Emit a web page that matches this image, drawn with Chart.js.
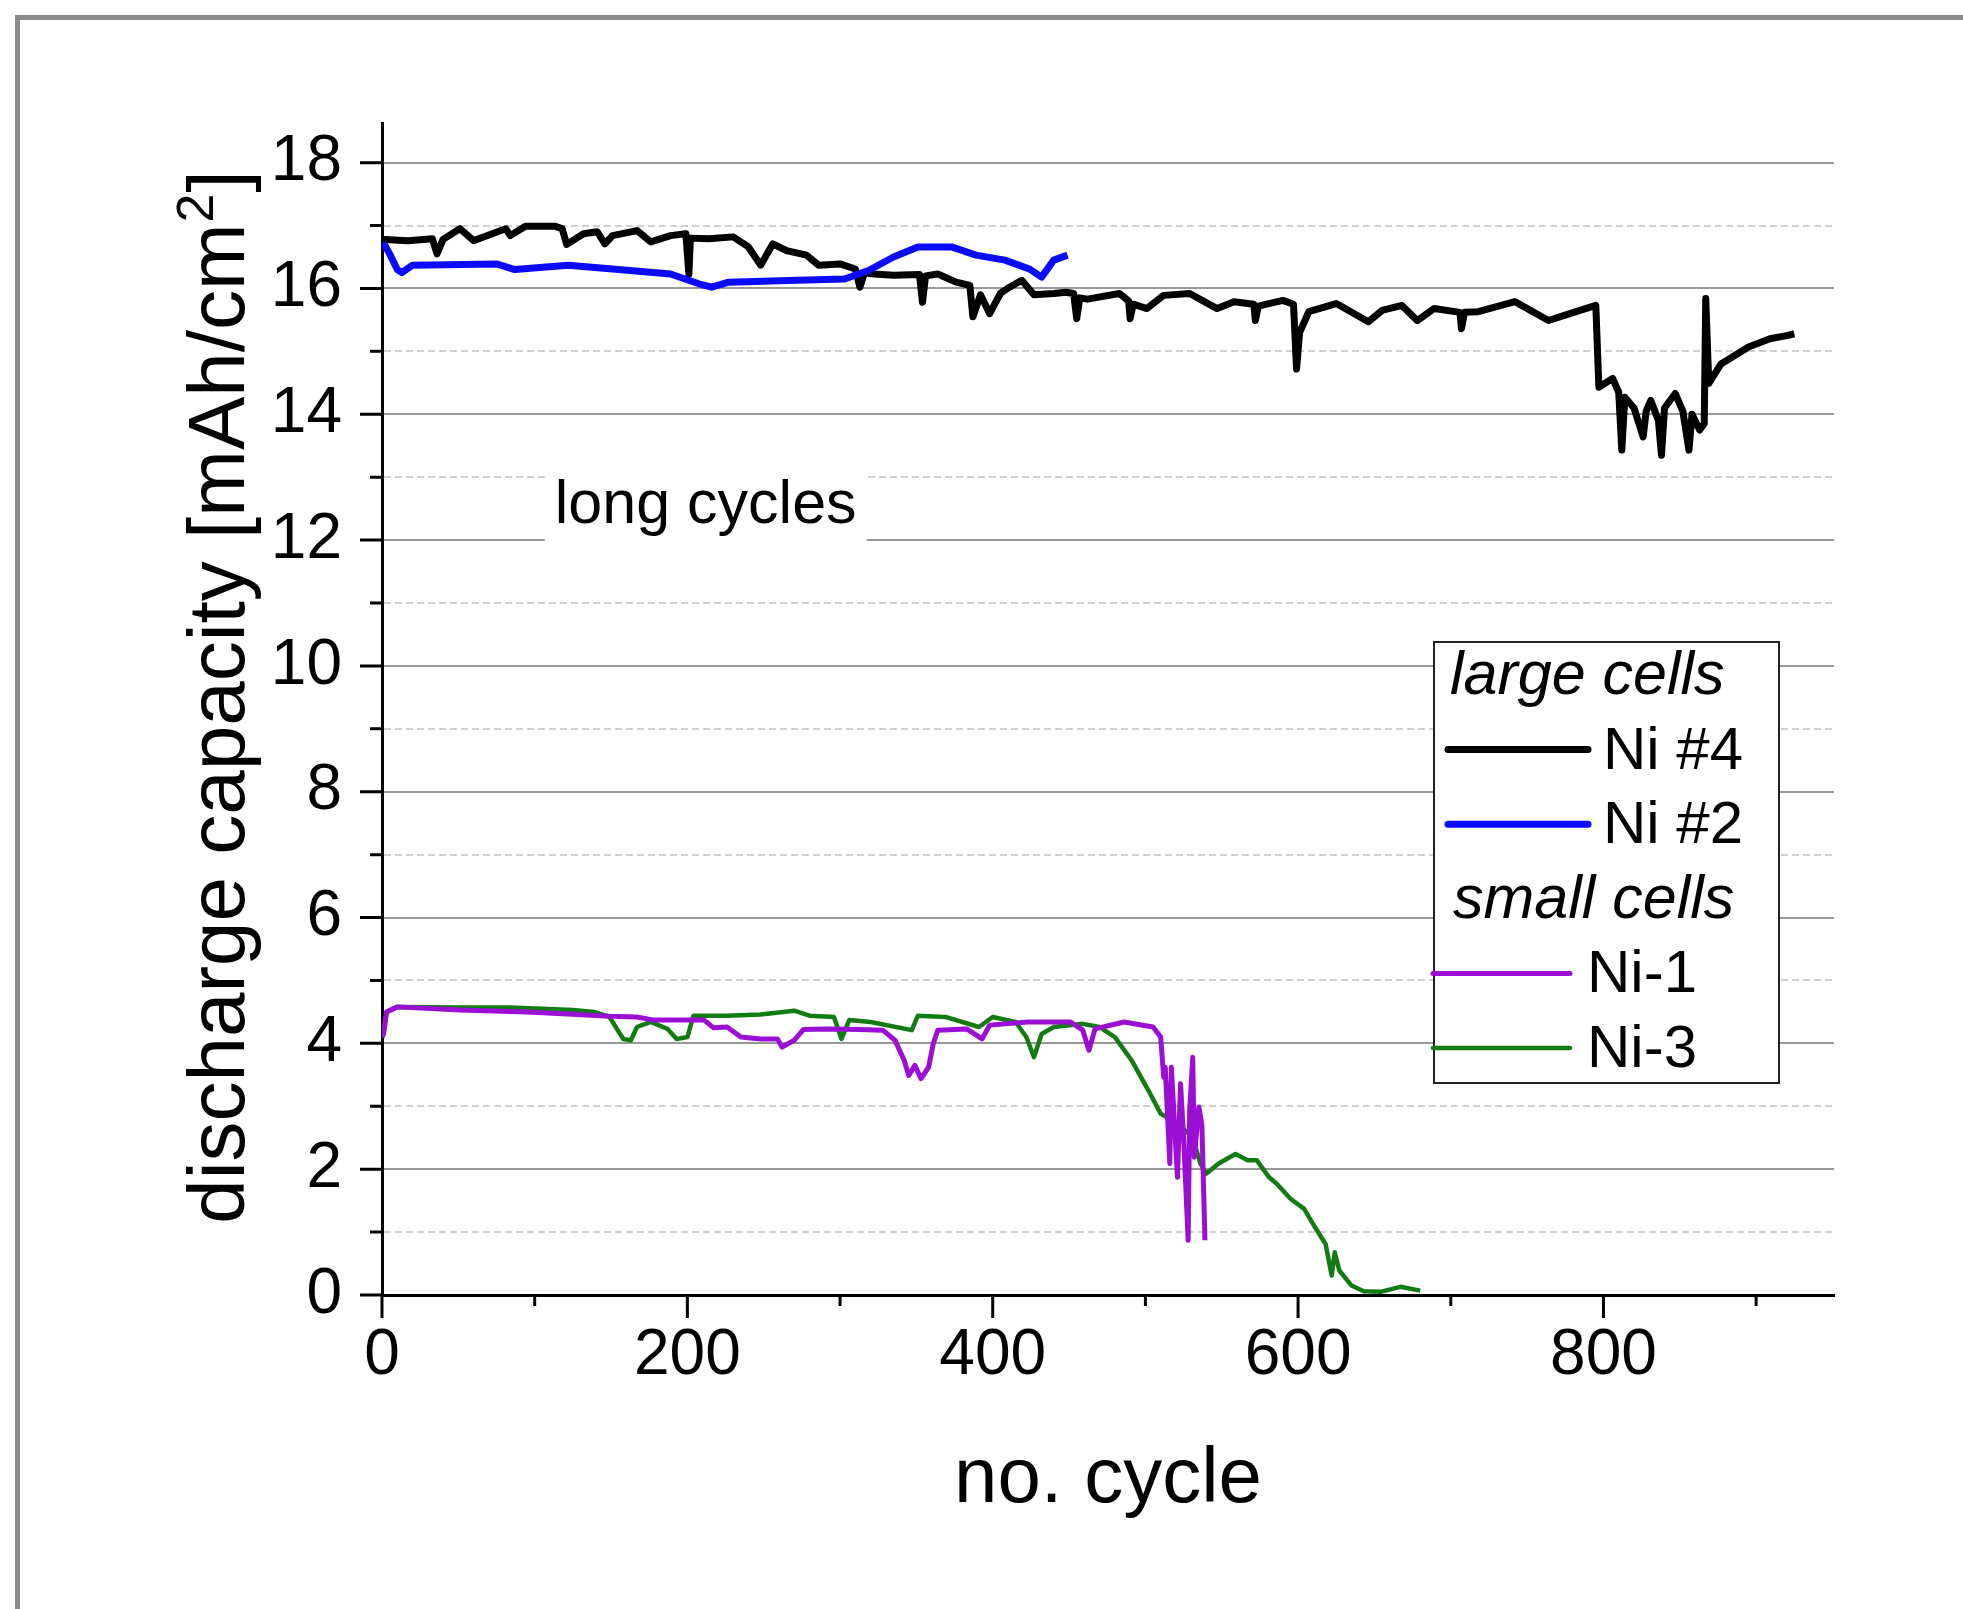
<!DOCTYPE html>
<html>
<head>
<meta charset="utf-8">
<title>discharge capacity vs. cycle</title>
<script src="https://cdn.jsdelivr.net/npm/chart.js@4"></script>
<style>
  html, body { margin: 0; padding: 0; background: #fff; }
  #wrap { width: 1963px; height: 1609px; }
</style>
</head>
<body>
<div id="wrap"><canvas id="chart" width="1963" height="1609"></canvas></div>
<script>
// ---------------------------------------------------------------
// Data (cycle number, mAh/cm2)
// ---------------------------------------------------------------
const ni4Cycle = [0, 2, 17, 33, 36, 40, 51, 60, 70, 81, 84, 94, 113, 118, 121, 132, 141, 146, 151, 167,
  176, 189, 199, 201, 202, 214, 230, 240, 248, 256, 265, 278, 286, 300, 310, 313, 316, 322, 335, 352,
  354, 356, 364, 376, 385, 387, 392, 398, 405, 411, 419, 427, 440, 448, 453, 455, 457, 462, 483, 489,
  490, 492, 501, 512, 529, 547, 558, 571, 572, 574, 590, 597, 599, 601, 607, 625, 646, 655, 668, 678,
  689, 706, 707, 709, 718, 742, 764, 778, 795, 797, 806, 810, 812, 814, 820, 826, 828, 831, 836, 838,
  840, 847, 852, 856, 858, 863, 866, 867, 869, 877, 895, 909, 920, 925];
const ni4Capacity = [16.70, 16.78, 16.76, 16.79, 16.55, 16.78, 16.95, 16.76, 16.85, 16.95, 16.84, 16.99, 16.99, 16.95, 16.70, 16.87, 16.90, 16.71, 16.84, 16.92,
  16.74, 16.84, 16.87, 16.23, 16.80, 16.79, 16.82, 16.66, 16.37, 16.71, 16.60, 16.53, 16.37, 16.39, 16.31, 16.02, 16.25, 16.23, 16.21, 16.22,
  15.78, 16.20, 16.23, 16.10, 16.05, 15.55, 15.90, 15.60, 15.92, 16.02, 16.13, 15.90, 15.92, 15.94, 15.92, 15.52, 15.85, 15.83, 15.92, 15.80,
  15.52, 15.75, 15.68, 15.89, 15.92, 15.68, 15.79, 15.75, 15.49, 15.72, 15.81, 15.75, 14.72, 15.30, 15.63, 15.76, 15.47, 15.65, 15.73, 15.49,
  15.68, 15.62, 15.36, 15.62, 15.63, 15.79, 15.49, 15.60, 15.73, 14.43, 14.57, 14.35, 13.43, 14.27, 14.10, 13.64, 14.05, 14.22, 13.90, 13.35,
  14.10, 14.33, 14.05, 13.43, 14.00, 13.75, 13.85, 15.84, 14.49, 14.80, 15.07, 15.20, 15.25, 15.28];

const ni2Cycle = [0, 2, 5, 10, 13, 20, 75, 87, 122, 151, 189, 208, 216, 227, 272, 303, 319, 335, 351, 373,
  389, 408, 424, 432, 440, 449];
const ni2Capacity = [16.70, 16.68, 16.55, 16.30, 16.25, 16.37, 16.39, 16.30, 16.37, 16.31, 16.23, 16.07, 16.02, 16.10, 16.13, 16.15, 16.29, 16.50, 16.66, 16.66,
  16.53, 16.45, 16.31, 16.18, 16.45, 16.53];

const ni1Cycle = [0, 1, 3, 10, 51, 95, 128, 149, 167, 178, 204, 211, 217, 226, 235, 248, 259, 262, 270, 276,
  291, 313, 328, 336, 342, 345, 349, 353, 358, 361, 364, 383, 393, 398, 423, 451, 459, 463, 467, 486,
  505, 510, 512, 513, 516, 517, 521, 523, 525, 528, 529, 531, 532, 535, 537, 539];
const ni1Capacity = [4.10, 4.15, 4.50, 4.58, 4.53, 4.50, 4.46, 4.43, 4.42, 4.37, 4.37, 4.37, 4.25, 4.26, 4.10, 4.07, 4.07, 3.94, 4.05, 4.22,
  4.23, 4.22, 4.21, 4.05, 3.73, 3.49, 3.65, 3.44, 3.62, 3.99, 4.21, 4.23, 4.07, 4.29, 4.34, 4.34, 4.21, 3.89, 4.23, 4.34,
  4.26, 4.10, 3.46, 3.62, 2.09, 3.62, 1.87, 3.36, 2.51, 0.87, 2.93, 3.78, 2.19, 2.99, 2.70, 0.87];

const ni3Cycle = [0, 1, 3, 10, 51, 84, 125, 139, 149, 158, 163, 167, 176, 187, 193, 200, 204, 226, 248, 270,
  280, 296, 301, 306, 320, 347, 351, 369, 391, 400, 415, 422, 427, 432, 440, 459, 470, 480, 491, 502,
  510, 514, 522, 531, 536, 540, 548, 559, 567, 573, 581, 586, 595, 604, 611, 618, 622, 624, 627, 635,
  643, 654, 667, 680];
const ni3Capacity = [4.10, 4.15, 4.50, 4.58, 4.57, 4.57, 4.53, 4.50, 4.42, 4.07, 4.05, 4.26, 4.34, 4.23, 4.07, 4.10, 4.44, 4.44, 4.46, 4.52,
  4.44, 4.42, 4.07, 4.37, 4.34, 4.21, 4.44, 4.42, 4.26, 4.42, 4.34, 4.10, 3.78, 4.15, 4.26, 4.31, 4.26, 4.10, 3.73, 3.25,
  2.88, 2.83, 2.70, 2.51, 2.09, 1.93, 2.09, 2.24, 2.14, 2.14, 1.87, 1.77, 1.53, 1.37, 1.08, 0.81, 0.31, 0.68, 0.39, 0.15,
  0.06, 0.05, 0.13, 0.07];

const seriesNames = ['Ni #4', 'Ni #2', 'Ni-1', 'Ni-3'];
const legendGroups = ['large cells', 'small cells'];
const xTicks = [0, 100, 200, 300, 400, 500, 600, 700, 800, 900];
const xTickLabels = [0, 200, 400, 600, 800];
const yTicks = [0, 1, 2, 3, 4, 5, 6, 7, 8, 9, 10, 11, 12, 13, 14, 15, 16, 17, 18];
const yTickLabels = [0, 2, 4, 6, 8, 10, 12, 14, 16, 18];

const FONT = '"Liberation Sans", Arial, sans-serif';

function toPoints(xs, ys) {
  return xs.map((x, i) => ({ x: x, y: ys[i] }));
}

// ---------------------------------------------------------------
// Frame, axis titles, in-plot label, tick marks and grouped legend
// ---------------------------------------------------------------
const framePlugin = {
  id: 'frame',
  beforeDraw(chart) {
    const { ctx, width, height } = chart;
    ctx.save();
    ctx.fillStyle = '#fff';
    ctx.fillRect(0, 0, width, height);
    ctx.fillStyle = '#8a8a8a';
    ctx.fillRect(15, 15, width - 15, 5);
    ctx.fillRect(15, 15, 5, height - 15);
    ctx.restore();
  }
};

const tickMarks = {
  id: 'tickMarks',
  afterDraw(chart) {
    const { ctx, scales: { x, y } } = chart;
    ctx.save();
    ctx.strokeStyle = '#000';
    ctx.lineWidth = 3;
    ctx.beginPath();
    y.ticks.forEach(t => {
      const py = y.getPixelForValue(t.value);
      const len = yTickLabels.includes(t.value) ? 22 : 12;
      ctx.moveTo(y.right - len, py);
      ctx.lineTo(y.right, py);
    });
    x.ticks.forEach(t => {
      const px = x.getPixelForValue(t.value);
      const len = xTickLabels.includes(t.value) ? 23 : 11;
      ctx.moveTo(px, x.top);
      ctx.lineTo(px, x.top + len);
    });
    ctx.stroke();
    ctx.restore();
  }
};

const textPlugin = {
  id: 'texts',
  beforeDatasetsDraw(chart) {
    // "long cycles" label sitting on a white box over the grid
    const { ctx, scales: { x, y } } = chart;
    const cx = x.getPixelForValue(212);
    const base = y.getPixelForValue(12.27);
    ctx.save();
    ctx.font = '61px ' + FONT;
    const w = ctx.measureText('long cycles').width;
    ctx.fillStyle = '#fff';
    ctx.fillRect(cx - w / 2 - 10, base - 52, w + 20, 78);
    ctx.fillStyle = '#000';
    ctx.textAlign = 'center';
    ctx.textBaseline = 'alphabetic';
    ctx.fillText('long cycles', cx, base);
    ctx.restore();
  },
  afterDraw(chart) {
    const { ctx, chartArea } = chart;
    ctx.save();
    ctx.fillStyle = '#000';
    ctx.textBaseline = 'alphabetic';

    // x title
    ctx.font = '78px ' + FONT;
    ctx.textAlign = 'center';
    ctx.fillText('no. cycle', (chartArea.left + chartArea.right) / 2, 1502);

    // y title, rotated, with superscript 2
    ctx.translate(244, 698);
    ctx.rotate(-Math.PI / 2);
    ctx.textAlign = 'left';
    const main = 'discharge capacity [mAh/cm';
    ctx.font = '80px ' + FONT;
    const w1 = ctx.measureText(main).width;
    const w3 = ctx.measureText(']').width;
    ctx.font = '52px ' + FONT;
    const w2 = ctx.measureText('2').width;
    const x0 = -(w1 + w2 + w3) / 2;
    ctx.font = '80px ' + FONT;
    ctx.fillText(main, x0, 0);
    ctx.fillText(']', x0 + w1 + w2 + 2, 0);
    ctx.font = '52px ' + FONT;
    ctx.fillText('2', x0 + w1 + 1, -31);
    ctx.restore();
  }
};

const groupedLegend = {
  id: 'groupedLegend',
  afterDraw(chart) {
    const { ctx } = chart;
    const ds = chart.data.datasets;
    const box = { left: 1434, top: 642, width: 345, height: 441 };
    const rowTop = 694, rowStep = 74.6;
    // per group: header indent, sample start / end, label start
    const groupLayout = [
      { head: 1450, from: 1448, to: 1588, text: 1603, members: [0, 1] },
      { head: 1453, from: 1433, to: 1570, text: 1587, members: [2, 3] }
    ];
    ctx.save();
    ctx.fillStyle = '#fff';
    ctx.fillRect(box.left, box.top, box.width, box.height);
    ctx.strokeStyle = '#222';
    ctx.lineWidth = 2;
    ctx.strokeRect(box.left, box.top, box.width, box.height);

    let row = 0;
    ctx.textBaseline = 'alphabetic';
    ctx.textAlign = 'left';
    groupLayout.forEach((g, gi) => {
      let base = rowTop + row * rowStep;
      ctx.fillStyle = '#000';
      ctx.font = 'italic 61px ' + FONT;
      ctx.fillText(legendGroups[gi], g.head, base);
      row++;
      g.members.forEach(i => {
        base = rowTop + row * rowStep;
        ctx.strokeStyle = ds[i].borderColor;
        ctx.lineWidth = ds[i].borderWidth;
        ctx.lineCap = 'round';
        ctx.beginPath();
        ctx.moveTo(g.from, base - 19);
        ctx.lineTo(g.to, base - 19);
        ctx.stroke();
        ctx.fillStyle = '#000';
        ctx.font = '60px ' + FONT;
        ctx.fillText(ds[i].label, g.text, base);
        row++;
      });
    });
    ctx.restore();
  }
};

Chart.defaults.font.family = FONT;
Chart.defaults.color = '#000';

new Chart(document.getElementById('chart'), {
  type: 'line',
  data: {
    datasets: [
      { label: seriesNames[0], data: toPoints(ni4Cycle, ni4Capacity), borderColor: '#000000', borderWidth: 7, order: 2 },
      { label: seriesNames[1], data: toPoints(ni2Cycle, ni2Capacity), borderColor: '#0a0aff', borderWidth: 7, order: 1 },
      { label: seriesNames[2], data: toPoints(ni1Cycle, ni1Capacity), borderColor: '#9b0fd4', borderWidth: 5, order: 3 },
      { label: seriesNames[3], data: toPoints(ni3Cycle, ni3Capacity), borderColor: '#127c12', borderWidth: 4.5, order: 4 }
    ]
  },
  options: {
    responsive: false,
    animation: false,
    devicePixelRatio: 1,
    layout: { padding: { left: 0, top: 123, right: 129, bottom: 0 } },
    elements: {
      point: { radius: 0 },
      line: { tension: 0, borderJoinStyle: 'round', fill: false }
    },
    plugins: {
      legend: { display: false },
      tooltip: { enabled: false }
    },
    scales: {
      x: {
        type: 'linear',
        min: 0,
        max: 951,
        afterFit: s => { s.height = 314; },
        afterBuildTicks: s => { s.ticks = xTicks.map(v => ({ value: v })); },
        ticks: {
          autoSkip: false,
          maxRotation: 0,
          padding: 23,
          font: { size: 64 },
          color: '#000',
          callback: v => xTickLabels.includes(v) ? String(v) : ''
        },
        grid: { display: false, drawTicks: false },
        border: { display: true, color: '#000', width: 3 }
      },
      y: {
        type: 'linear',
        min: 0,
        max: 18.63,
        afterFit: s => { s.width = 382; },
        afterBuildTicks: s => { s.ticks = yTicks.map(v => ({ value: v })); },
        ticks: {
          autoSkip: false,
          padding: 40,
          font: { size: 64 },
          color: '#000',
          callback: v => yTickLabels.includes(v) ? String(v) : ''
        },
        grid: {
          drawTicks: false,
          lineWidth: 2,
          color: c => (c.tick && yTickLabels.includes(c.tick.value)) ? '#999999' : '#cfcfcf'
        },
        border: {
          display: true,
          color: '#000',
          width: 3,
          dash: c => (c.tick && !yTickLabels.includes(c.tick.value)) ? [7, 4] : []
        }
      }
    }
  },
  plugins: [framePlugin, tickMarks, textPlugin, groupedLegend]
});
</script>
</body>
</html>
